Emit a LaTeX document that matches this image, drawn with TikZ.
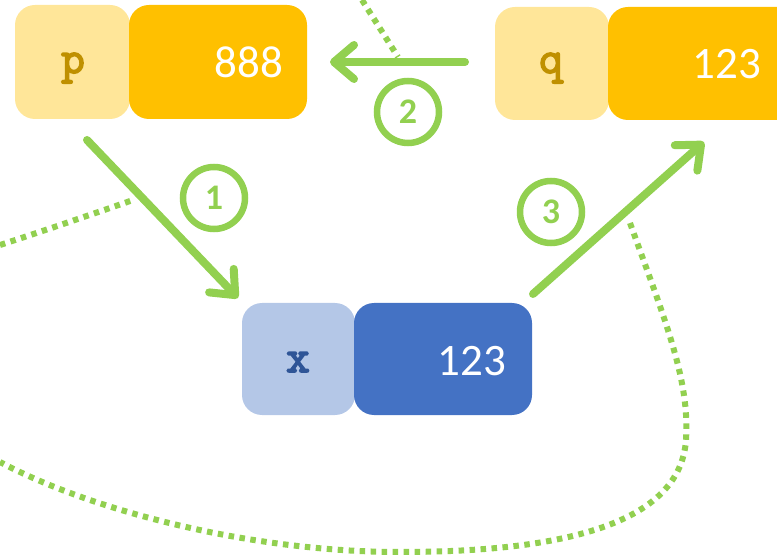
\documentclass[tikz,border=0pt]{standalone}
\usepackage{fontspec}
\setmainfont{Carlito}
\newfontfamily\codefont{Latin Modern Mono}[FakeBold=3.5]
\usetikzlibrary{arrows.meta}
\definecolor{lightyel}{HTML}{FFE699}
\definecolor{orng}{HTML}{FFC000}
\definecolor{lightblu}{HTML}{B4C7E7}
\definecolor{blu}{HTML}{4472C4}
\definecolor{grn}{HTML}{92D050}
\definecolor{gold}{HTML}{BF9000}
\definecolor{darkblu}{HTML}{2F5597}
\tikzset{
  namebox/.style={rounded corners=20pt, fill=#1},
  valbox/.style={rounded corners=20pt, fill=#1},
  nametext/.style={font=\codefont\bfseries\fontsize{46}{46}\selectfont, text=#1, anchor=base, inner sep=0pt},
  valtext/.style={font=\fontsize{45}{45}\selectfont, text=white, anchor=base east, inner sep=0pt},
  movearrow/.style={draw=grn, line width=8pt, line cap=round, -{Straight Barb[length=20pt, width=34pt, line cap=round, line join=round]}},
  stepnum/.style={circle, draw=grn, line width=6.5pt, minimum size=62pt, inner sep=0pt, text=grn, font=\bfseries\fontsize{36}{36}\selectfont},
  dotline/.style={draw=grn, line width=6pt, dash pattern=on 5.5pt off 5.5pt}
}
\begin{document}
\begin{tikzpicture}[x=1pt, y=-1pt]
\useasboundingbox (0,0) rectangle (777,556);
\clip (0,0) rectangle (777,556);
% dotted loop pieces
\draw[dotline] (362,0) -- (398,57);
\draw[dotline] (0,245) .. controls (40,232) and (90,215) .. (133,200);
\draw[dotline] (630,223) .. controls (665,320) and (690,380) .. (686,440) .. controls (680,525) and (560,552) .. (400,552) .. controls (250,552) and (90,510) .. (0,462);
% boxes
\fill[namebox=lightyel] (15,5) rectangle (130,119);
\fill[valbox=orng] (129,5) rectangle (307,119);
\node[nametext=gold] (p) at (73,73) {p};
\node[valtext] (pv) at (283,78) {888};
\fill[namebox=lightyel] (495,7) rectangle (609,120);
\fill[valbox=orng] (608,7) rectangle (820,120);
\node[nametext=gold] (q) at (551,73) {q};
\node[valtext] (qv) at (761,79) {123};
\fill[namebox=lightblu] (242,303) rectangle (355,415);
\fill[valbox=blu] (354,303) rectangle (532,415);
\node[nametext=darkblu] (x) at (298,372) {x};
\node[valtext] (xv) at (506,375) {123};
% arrows
\coordinate (a1s) at (87,140);
\coordinate (a1e) at (238,298);
\coordinate (a2s) at (465,62);
\coordinate (a2e) at (330,62);
\coordinate (a3s) at (533,294);
\coordinate (a3e) at (704,142);
\draw[movearrow] (a1s) -- (a1e);
\draw[movearrow] (a2s) -- (a2e);
\draw[movearrow] (a3s) -- (a3e);
\node[stepnum] (n1) at (214,198) {1};
\node[stepnum] (n2) at (408,112) {2};
\node[stepnum] (n3) at (551,212) {3};
\end{tikzpicture}
\end{document}
